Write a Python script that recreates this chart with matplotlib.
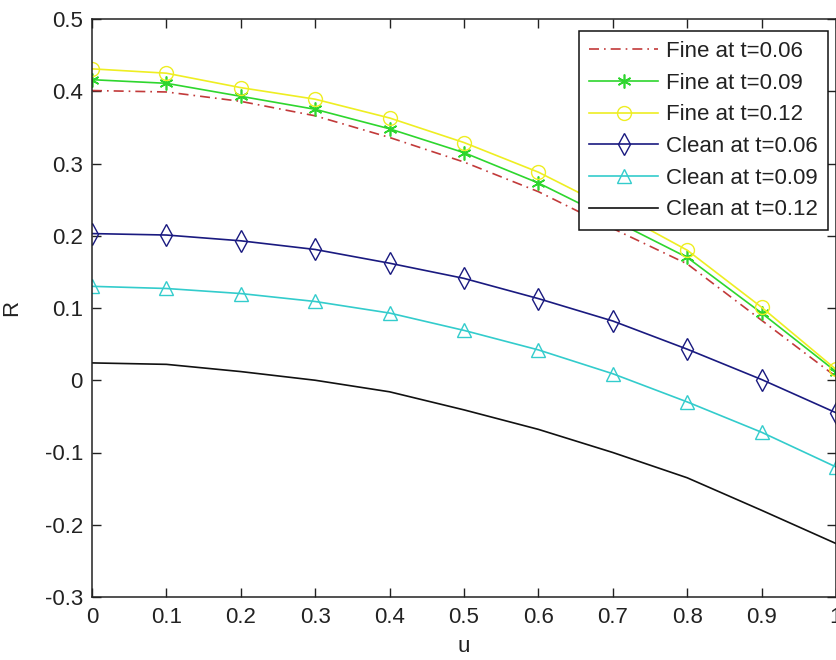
import numpy as np
import matplotlib
matplotlib.use("Agg")
import matplotlib.pyplot as plt
from matplotlib.ticker import FixedLocator

plt.rcParams['font.family'] = ['Liberation Sans', 'DejaVu Sans']

u = [0.0, 0.1, 0.2, 0.3, 0.4, 0.5, 0.6, 0.7, 0.8, 0.9, 1.0]

fine_006 = [0.401, 0.399, 0.386, 0.366, 0.336, 0.302, 0.261, 0.210, 0.161, 0.083, 0.005]
fine_009 = [0.416, 0.411, 0.393, 0.375, 0.348, 0.315, 0.273, 0.222, 0.170, 0.093, 0.012]
fine_012 = [0.431, 0.425, 0.405, 0.389, 0.363, 0.329, 0.288, 0.236, 0.180, 0.101, 0.015]
clean_006 = [0.203, 0.201, 0.193, 0.181, 0.162, 0.141, 0.113, 0.082, 0.043, 0.001, -0.045]
clean_009 = [0.130, 0.127, 0.120, 0.109, 0.093, 0.069, 0.042, 0.009, -0.030, -0.072, -0.120]
clean_012 = [0.024, 0.022, 0.012, 0.000, -0.016, -0.041, -0.068, -0.100, -0.135, -0.180, -0.226]

labels = ["Fine at t=0.06", "Fine at t=0.09", "Fine at t=0.12",
          "Clean at t=0.06", "Clean at t=0.09", "Clean at t=0.12"]

xticks = [0, 0.1, 0.2, 0.3, 0.4, 0.5, 0.6, 0.7, 0.8, 0.9, 1]
xticklabels = ["0", "0.1", "0.2", "0.3", "0.4", "0.5", "0.6", "0.7", "0.8", "0.9", "1"]
yticks = [-0.3, -0.2, -0.1, 0, 0.1, 0.2, 0.3, 0.4, 0.5]
yticklabels = ["-0.3", "-0.2", "-0.1", "0", "0.1", "0.2", "0.3", "0.4", "0.5"]

W, H = 837, 660
fig = plt.figure(figsize=(W / 100, H / 100), dpi=100)
ax = fig.add_axes([92 / W, 63 / H, (836 - 92) / W, (597 - 19) / H])

fs = 16
tc = '#222222'
ax.plot(u, fine_006, color='#c23a3a', lw=1.2, linestyle=(0, (6, 3, 1, 3)), label=labels[0])
ax.plot(u, fine_009, color='#2ed62e', lw=1.2, marker=(6, 2, 0), ms=10, mew=1.2,
        label=labels[1])
ax.plot(u, fine_012, color='#eeee22', lw=1.2, marker='o', ms=10, mfc='none', mew=1.0,
        label=labels[2])
ax.plot(u, clean_006, color='#1a1a80', lw=1.2, marker='d', ms=11, mfc='none', mew=1.0,
        label=labels[3])
ax.plot(u, clean_009, color='#33cccc', lw=1.2, marker='^', ms=10, mfc='none', mew=1.0,
        label=labels[4])
ax.plot(u, clean_012, color='#111111', lw=1.2, label=labels[5])

ax.set_xlim(0, 1)
ax.set_ylim(-0.3, 0.5)
ax.xaxis.set_major_locator(FixedLocator(xticks))
ax.yaxis.set_major_locator(FixedLocator(yticks))
ax.set_xticklabels(xticklabels, fontsize=fs, color=tc)
ax.set_yticklabels(yticklabels, fontsize=fs, color=tc)
ax.tick_params(direction='in', length=6.5, width=1.0, top=True, right=True,
               colors=tc)
ax.tick_params(axis='y', pad=6.5)
ax.tick_params(axis='x', pad=7.5)
for sp in ax.spines.values():
    sp.set_linewidth(1.1)
    sp.set_color(tc)

ax.set_xlabel('u', fontsize=fs, color=tc)
ax.set_ylabel('R', fontsize=fs, color=tc)
ax.xaxis.set_label_coords(0.5, (597 - 647) / 578)
ax.xaxis.label.set_va('center')
ax.yaxis.set_label_coords((12 - 92) / 744, 0.5)
ax.yaxis.label.set_va('center')

leg = ax.legend(loc='upper right', bbox_to_anchor=(828 / W, 1 - 31 / H),
                bbox_transform=fig.transFigure, borderaxespad=0,
                fontsize=fs, frameon=True, fancybox=False, framealpha=1,
                edgecolor='#111111', handlelength=3.1, handletextpad=0.36,
                labelspacing=0.48, borderpad=0.45)
leg.get_frame().set_linewidth(1.1)
for t in leg.get_texts():
    t.set_color(tc)

fig.savefig('out.png', dpi=100)
